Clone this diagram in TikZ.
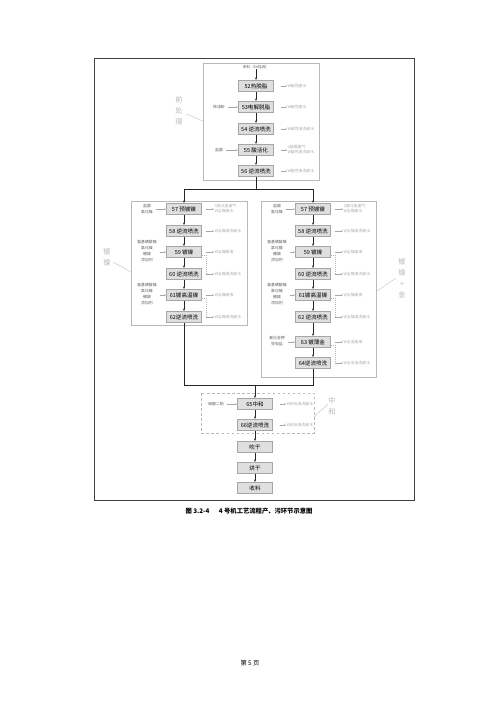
\documentclass[tikz,border=0pt]{standalone}
\usepackage{fontspec}
\setmainfont{Noto Sans CJK SC}
\usetikzlibrary{arrows.meta,calc}
\begin{document}
\begin{tikzpicture}[x=1.19pt,y=-1.19pt,
 proc/.style={draw=gray!70,fill=gray!25,line width=0.8pt,minimum width=42pt,minimum height=13.5pt,inner sep=0pt,font=\fontsize{6.6}{7}\selectfont},
 flow/.style={-{Stealth[length=3pt,width=2.4pt]},line width=0.55pt,black!85},
 sidearr/.style={-{Stealth[length=2pt,width=1.8pt]},line width=0.4pt,gray!70},
 outlbl/.style={anchor=west,font=\fontsize{4.6}{6}\selectfont,text=gray!65,align=left,inner sep=0.5pt},
 inlbl/.style={font=\fontsize{4.6}{7}\selectfont,text=gray!75!black,align=center,inner sep=0.5pt},
 grp/.style={draw=gray!55,line width=0.5pt},
 tag/.style={font=\fontsize{8.5}{13}\selectfont,text=gray!55,align=center,inner sep=0pt},
 lead/.style={draw=gray!55,line width=0.4pt},
 brk/.style={draw=gray!60,line width=0.4pt,dotted},
 ]
\useasboundingbox (0,0) rectangle (500,707);
\fill[white] (0,0) rectangle (500,707);
% outer frame
\draw[black!75,line width=1.1pt] (94,58) rectangle (414,500);

% ---------- pretreatment ----------
\draw[grp] (203,63) rectangle (319,180);
\node[inlbl,font=\fontsize{4.4}{5}\selectfont] (src) at (256,67) {来料（5\#挂具）};
\node[proc] (p52) at (256,86) {52热脱脂};
\node[proc] (p53) at (256,107) {53电解脱脂};
\node[proc] (p54) at (256,129) {54 逆流喷洗};
\node[proc] (p55) at (256,150) {55 酸活化};
\node[proc] (p56) at (256,171) {56 逆流喷洗};
\draw[flow] (src) -- (p52);
\draw[flow] (p52) -- (p53);
\draw[flow] (p53) -- (p54);
\draw[flow] (p54) -- (p55);
\draw[flow] (p55) -- (p56);
\foreach \n/\t in {p52/W碱性废水,p53/W碱性废水,p54/W碱性清洗废水,p55/{G酸雾废气\\W酸性清洗废水},p56/W酸性清洗废水}{
  \node[outlbl] (r\n) at ($(\n.east)+(13,0)$) {\t};
  \draw[sidearr] ($(\n.east)+(7,0)$) -- (r\n.west);
}
\node[inlbl] (l53) at (219,107) {除油粉};
\node[inlbl] (l55) at (219,150) {盐酸};
\draw[sidearr,shorten <=3pt] (l53) -- (p53);
\draw[sidearr,shorten <=3pt] (l55) -- (p55);
\node[tag] (tpre) at (179,111) {前\\处\\理};
\coordinate (tpreA) at (186,114);
\coordinate (tpreB) at (203,121);
\draw[lead] (tpreA) -- (tpreB);

% split
\coordinate (sp) at (256,189);
\coordinate (spl) at (184,189);
\coordinate (spr) at (313,189);
\draw[line width=0.55pt,black!85] (p56.south) -- (sp);
\draw[line width=0.55pt,black!85] (spl) -- (spr);

% ---------- left column (nickel) ----------
\draw[grp] (131,201) rectangle (247,325);
\node[proc] (a57) at (184,209) {57 预镀镍};
\node[proc] (a58) at (184,231) {58 逆流喷洗};
\node[proc] (a59) at (184,252) {59 镀镍};
\node[proc] (a60) at (184,274) {60 逆流喷洗};
\node[proc] (a61) at (184,295) {61镀高温镍};
\node[proc] (a62) at (184,317) {62逆流喷洗};
\draw[flow] (spl) -- (a57);
\draw[flow] (a57) -- (a58);
\draw[flow] (a58) -- (a59);
\draw[flow] (a59) -- (a60);
\draw[flow] (a60) -- (a61);
\draw[flow] (a61) -- (a62);
\foreach \n/\t in {a57/{G氯化氢废气\\W含镍废水},a58/W含镍清洗废水,a59/W含镍废液,a60/W含镍清洗废水,a61/W含镍废液,a62/W含镍清洗废水}{
  \node[outlbl] (r\n) at ($(\n.east)+(12,0)$) {\t};
  \draw[sidearr] ($(\n.east)+(4,0)$) -- (r\n.west);
}
\draw[brk] ($(a59.east)+(0,3)$) -- ($(a59.east)+(4,3)$) -- ($(a60.east)+(4,0)$);
\draw[brk] ($(a61.east)+(0,3)$) -- ($(a61.east)+(4,3)$) -- ($(a62.east)+(4,0)$);
\node[inlbl] (la57) at (147,209) {盐酸\\氯化镍};
\node[inlbl] (la59) at (147,251) {氨基磺酸镍\\氯化镍\\硼酸\\添加剂};
\node[inlbl] (la61) at (147,294) {氨基磺酸镍\\氯化镍\\硼酸\\添加剂};
\draw[sidearr,shorten <=3pt] (la57.east|-a57) -- (a57);
\draw[sidearr,shorten <=3pt] (la59.east|-a59) -- (a59);
\draw[sidearr,shorten <=3pt] (la61.east|-a61) -- (a61);
\node[tag] (tni) at (107,257) {镀\\镍};
\coordinate (tniA) at (113,262);
\coordinate (tniB) at (131,272);
\draw[lead] (tniA) -- (tniB);

% ---------- right column (nickel + gold) ----------
\draw[grp] (261,201) rectangle (376,377);
\node[proc] (b57) at (313,209) {57 预镀镍};
\node[proc] (b58) at (313,231) {58 逆流喷洗};
\node[proc] (b59) at (313,252) {59 镀镍};
\node[proc] (b60) at (313,274) {60 逆流喷洗};
\node[proc] (b61) at (313,295) {61镀高温镍};
\node[proc] (b62) at (313,317) {62 逆流喷洗};
\node[proc] (b63) at (313,342) {63 镀薄金};
\node[proc] (b64) at (313,363) {64逆流喷洗};
\draw[flow] (spr) -- (b57);
\draw[flow] (b57) -- (b58);
\draw[flow] (b58) -- (b59);
\draw[flow] (b59) -- (b60);
\draw[flow] (b60) -- (b61);
\draw[flow] (b61) -- (b62);
\draw[flow] (b62) -- (b63);
\draw[flow] (b63) -- (b64);
\foreach \n/\t in {b57/{G氯化氢废气\\W含镍废水},b58/W含镍清洗废水,b59/W含镍废液,b60/W含镍清洗废水,b61/W含镍废液,b62/W含镍清洗废水,b63/W含金废液,b64/W含金清洗废水}{
  \node[outlbl] (r\n) at ($(\n.east)+(12,0)$) {\t};
  \draw[sidearr] ($(\n.east)+(4,0)$) -- (r\n.west);
}
\draw[brk] ($(b59.east)+(0,3)$) -- ($(b59.east)+(4,3)$) -- ($(b60.east)+(4,0)$);
\draw[brk] ($(b61.east)+(0,3)$) -- ($(b61.east)+(4,3)$) -- ($(b62.east)+(4,0)$);
\draw[brk] ($(b63.east)+(0,3)$) -- ($(b63.east)+(4,3)$) -- ($(b64.east)+(4,0)$);
\node[inlbl] (lb57) at (277,209) {盐酸\\氯化镍};
\node[inlbl] (lb59) at (277,251) {氨基磺酸镍\\氯化镍\\硼酸\\添加剂};
\node[inlbl] (lb61) at (277,294) {氨基磺酸镍\\氯化镍\\硼酸\\添加剂};
\node[inlbl] (lb63) at (277,341) {氰化金钾\\导电盐};
\draw[sidearr,shorten <=3pt] (lb57.east|-b57) -- (b57);
\draw[sidearr,shorten <=3pt] (lb59.east|-b59) -- (b59);
\draw[sidearr,shorten <=3pt] (lb61.east|-b61) -- (b61);
\draw[sidearr,shorten <=3pt] (lb63.east|-b63) -- (b63);
\node[tag] (tau) at (402,278) {镀\\镍\\+\\金};
\coordinate (tauA) at (396,278);
\coordinate (tauB) at (377,291);
\draw[lead] (tauA) -- (tauB);

% join
\coordinate (jl) at (184,385);
\coordinate (jr) at (313,385);
\coordinate (jm) at (255,385);
\draw[line width=0.55pt,black!85] (a62.south) -- (jl) -- (jr) -- (b64.south);

% ---------- neutralisation & finish ----------
\draw[grp,dashed] (201,393) rectangle (314,433);
\node[proc] (c65) at (255,404) {65中和};
\node[proc] (c66) at (255,425) {66逆流喷洗};
\node[proc] (c67) at (255,447) {吹干};
\node[proc] (c68) at (255,468) {烘干};
\node[proc] (c69) at (255,488) {收料};
\draw[flow] (jm) -- (c65);
\draw[flow] (c65) -- (c66);
\draw[flow] (c66) -- (c67);
\draw[flow] (c67) -- (c68);
\draw[flow] (c68) -- (c69);
\foreach \n/\t in {c65/W综合清洗废水,c66/W综合清洗废水}{
  \node[outlbl] (r\n) at ($(\n.east)+(13,0)$) {\t};
  \draw[sidearr] ($(\n.east)+(7,0)$) -- (r\n.west);
}
\node[inlbl] (l65) at (216,404) {硫酸二钠};
\draw[sidearr,shorten <=3pt] (l65) -- (c65);
\node[tag] (tne) at (332,406) {中\\和};
\coordinate (tneA) at (328,404);
\coordinate (tneB) at (314,417);
\draw[lead] (tneA) -- (tneB);

% caption and footer
\node[font=\fontsize{7.5}{9}\selectfont\bfseries] (cap) at (249,511) {图 3.2-4\hspace{1.5em}4 号机工艺流程产、污环节示意图};
\node[font=\fontsize{7.5}{9}\selectfont] (foot) at (250,663) {第 5 页};
\end{tikzpicture}
\end{document}
